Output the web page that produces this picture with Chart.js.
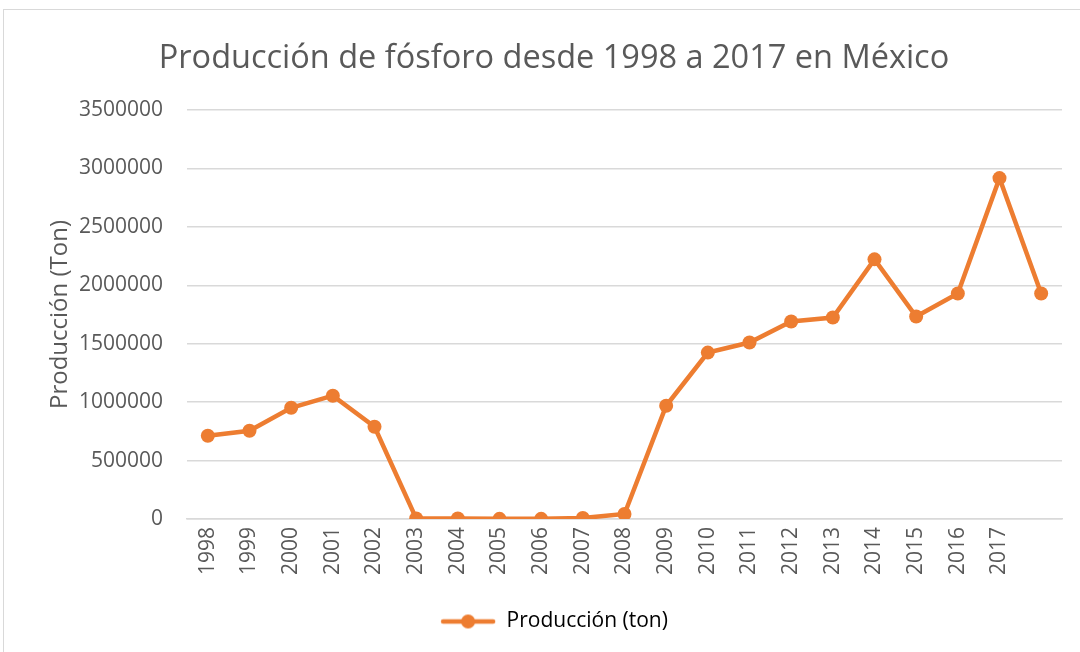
<!DOCTYPE html>
<html>
<head>
<meta charset="utf-8">
<script src="https://cdn.jsdelivr.net/npm/chart.js@4.4.1/dist/chart.umd.min.js"></script>
<style>
  html, body { margin: 0; padding: 0; background: #fff; }
  #wrap { position: relative; width: 1080px; height: 652px; overflow: hidden; }
  #frame { position: absolute; left: 3px; top: 9px; width: 1100px; height: 700px; border: 1px solid #D9D9D9; box-sizing: border-box; pointer-events: none; }
  canvas { position: absolute; left: 0; top: 0; }
</style>
</head>
<body>
<div id="wrap">
  <canvas id="c" width="1080" height="652"></canvas>
  <div id="frame"></div>
</div>
<script>
// Producción de fósforo en México, 1998–2017 (the 21st point has no label in the original)
const FONT = "'Open Sans', sans-serif";
const INK = "#595959";
const GRID = "#D9D9D9";
const ORANGE = "#ED7D31";

const years = ["1998", "1999", "2000", "2001", "2002", "2003", "2004", "2005", "2006", "2007",
  "2008", "2009", "2010", "2011", "2012", "2013", "2014", "2015", "2016", "2017", ""];
const production = [712000, 755000, 952000, 1055000, 789000, 5000, 5000, 1000, 1000, 8000,
  43000, 969000, 1424000, 1510000, 1690000, 1724000, 2222000, 1733000, 1930000, 2917000, 1930000];
const yTicks = { min: 0, max: 3500000, step: 500000 };

Chart.defaults.font.family = FONT;
Chart.defaults.color = INK;

// legend swatch: line with a dot, like the spreadsheet legend
const swatch = document.createElement("canvas");
swatch.width = 56; swatch.height = 16;
{
  const g = swatch.getContext("2d");
  g.strokeStyle = ORANGE; g.lineWidth = 4.5; g.lineCap = "round";
  g.beginPath(); g.moveTo(3, 8); g.lineTo(53, 8); g.stroke();
  g.fillStyle = ORANGE;
  g.beginPath(); g.arc(28, 8, 7, 0, Math.PI * 2); g.fill();
}

new Chart(document.getElementById("c"), {
  type: "line",
  data: {
    labels: years,
    datasets: [{
      label: "Producción (ton)",
      data: production,
      borderColor: ORANGE,
      backgroundColor: ORANGE,
      borderWidth: 4.5,
      pointRadius: 7,
      pointHoverRadius: 7,
      pointBorderWidth: 0,
      tension: 0,
      fill: false,
    }],
  },
  options: {
    responsive: false,
    animation: false,
    layout: { padding: { left: 46, right: 18, top: 0, bottom: 10 } },
    plugins: {
      title: {
        display: true,
        text: "Producción de fósforo desde 1998 a 2017 en México",
        font: { size: 32.5, weight: "normal" },
        color: INK,
        padding: { top: 39, bottom: 32 },
      },
      legend: {
        position: "bottom",
        labels: {
          usePointStyle: true,
          pointStyleWidth: 56,
          font: { size: 21 },
          color: INK,
          padding: 22,
          generateLabels: (chart) => chart.data.datasets.map((d, i) => ({
            text: d.label,
            pointStyle: swatch,
            fillStyle: ORANGE,
            strokeStyle: ORANGE,
            lineWidth: 0,
            datasetIndex: i,
          })),
        },
      },
      tooltip: { enabled: false },
    },
    scales: {
      x: {
        offset: true,
        afterFit: (s) => { s.height += 6; },
        grid: { display: false, drawTicks: false },
        border: { color: GRID, width: 1.5 },
        ticks: { autoSkip: false, maxRotation: 90, minRotation: 90, font: { size: 21 }, color: INK, padding: 8 },
      },
      y: {
        min: yTicks.min,
        max: yTicks.max,
        afterFit: (s) => { s.width = 141; },
        title: { display: true, text: "Producción (Ton)", font: { size: 24 }, color: INK, padding: { top: 0, bottom: 0 } },
        grid: { color: GRID, lineWidth: 1.5, drawTicks: false },
        border: { display: false },
        ticks: { stepSize: yTicks.step, font: { size: 21 }, color: INK, padding: 24, callback: (v) => String(v) },
      },
    },
  },
});
</script>
</body>
</html>
